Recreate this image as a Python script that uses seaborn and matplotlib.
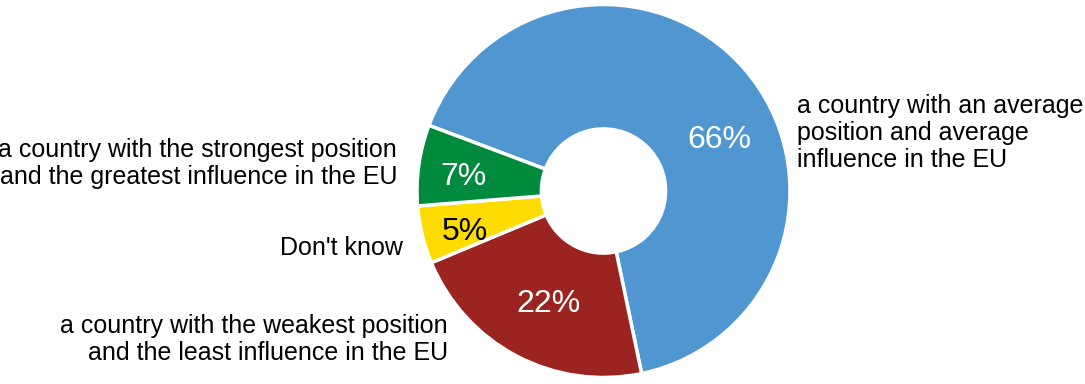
import matplotlib
matplotlib.use("Agg")
import matplotlib.pyplot as plt
import seaborn as sns

# ---- data ----
categories = [
    "a country with an average\nposition and average\ninfluence in the EU",
    "a country with the weakest position\nand the least influence in the EU",
    "Don't know",
    "a country with the strongest position\nand the greatest influence in the EU",
]
values = [66, 22, 5, 7]
pct_labels = ["66%", "22%", "5%", "7%"]
colors = ["#5097D2", "#9B2421", "#FFDC00", "#008A3E"]
pct_colors = ["white", "white", "black", "white"]

# ---- layout (pixel coordinates, y measured from top) ----
W, H = 1085, 384
cx, cy_top, R = 603.5, 191, 186.5
hole_frac = 0.333
pct_pos = [(719.5, 148), (548, 312), (464.5, 240), (463, 185)]
cat_pos = [(797, 167, "left"), (448, 360, "right"), (403, 255, "right"), (397, 184, "right")]

sns.set_theme(style="white")
plt.rcParams["font.family"] = ["Liberation Sans", "DejaVu Sans"]

fig = plt.figure(figsize=(W / 100, H / 100), dpi=100)
ax = fig.add_axes([0, 0, 1, 1])
palette = sns.color_palette(colors)
wedges, _ = ax.pie(
    values,
    colors=palette,
    startangle=159.4,
    counterclock=False,
    center=(cx, H - cy_top),
    radius=R,
    wedgeprops=dict(width=R * (1 - hole_frac), edgecolor="white", linewidth=2.5),
)
ax.set_xlim(0, W)
ax.set_ylim(0, H)
ax.set_aspect("equal")
ax.axis("off")

for lab, (x, y), c in zip(pct_labels, pct_pos, pct_colors):
    ax.text(x, H - y, lab, ha="center", va="baseline", fontsize=23, color=c)

for lab, (x, y, ha) in zip(categories, cat_pos):
    ax.text(x, H - y, lab, ha=ha, va="baseline", fontsize=18, color="black",
            multialignment=ha, linespacing=1.17)

fig.savefig("out.png", dpi=100, facecolor="white")
